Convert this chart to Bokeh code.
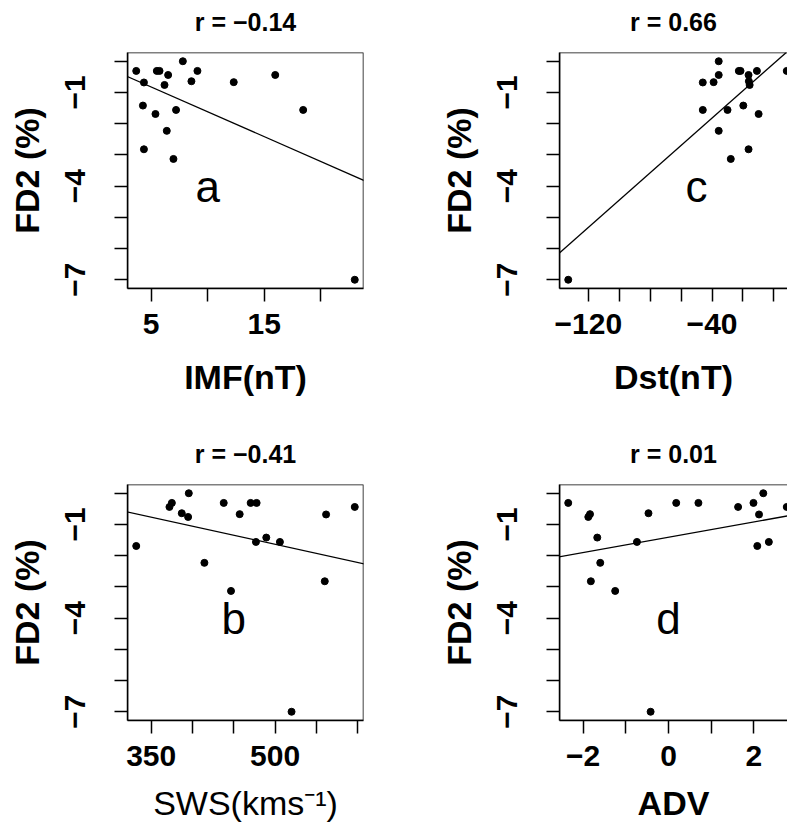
import numpy as np
from bokeh.plotting import figure
from bokeh.models import Range1d, FixedTicker, Slope, LinearAxis
from bokeh.layouts import row, column
from bokeh.core.properties import value
from bokeh.embed import file_html
from bokeh.resources import INLINE

# ---- data (one entry per event) ----
FD2 = [0.00, -0.31, -0.31, -0.31, -0.31, -0.44, -0.44, -0.64, -0.67, -0.68,
       -0.76, -1.42, -1.56, -1.56, -1.69, -2.23, -2.82, -3.13, -7.00]
IMF = [7.80, 3.68, 5.50, 5.74, 9.09, 6.50, 15.97, 8.56, 12.30, 4.36,
       6.18, 4.27, 7.20, 18.44, 5.38, 6.38, 4.36, 6.97, 23.00]
SWS = [395.5, 375.0, 437.8, 470.4, 477.6, 372.1, 596.4, 387.0, 457.1, 561.7,
       394.7, 489.3, 476.8, 505.8, 331.9, 414.4, 560.1, 446.6, 519.9]
DST = [-35.7, -22.7, -21.6, -11.0, 8.3, -35.7, -16.4, -16.2, -39.0, -46.0,
       -15.7, -19.8, -46.0, -30.0, -9.9, -35.7, -16.4, -27.9, -133.0]
ADV = [2.22, -2.35, 0.18, 0.70, 1.99, 1.63, 2.77, -0.47, -1.84, 2.12,
       -1.88, -1.67, -0.74, 2.35, 2.08, -1.60, -1.82, -1.25, -0.42]

Y_TICKS = [0, -1, -2, -3, -4, -5, -6, -7]
Y_TICK_LABELS = ["", "\u22121", "", "", "\u22124", "", "", "\u22127"]

IMF_TICKS = [5, 10, 15, 20]
IMF_TICK_LABELS = ["5", "", "15", ""]
SWS_TICKS = [350, 400, 450, 500, 550, 600]
SWS_TICK_LABELS = ["350", "", "", "500", "", ""]
DST_TICKS = [-120, -100, -80, -60, -40, -20, 0]
DST_TICK_LABELS = ["\u2212120", "", "", "", "\u221240", "", ""]
ADV_TICKS = [-2, -1, 0, 1, 2]
ADV_TICK_LABELS = ["\u22122", "", "0", "", "2"]

TITLES = ["r = \u22120.14", "r = \u22120.41", "r = 0.66", "r = 0.01"]
X_LABELS = ["IMF(nT)", "SWS(kms\u207b\u00b9)", "Dst(nT)", "ADV"]
Y_LABEL = "FD2 (%)"
LETTERS = ["a", "b", "c", "d"]
LETTER_X = [10, 450, -50, 0]
LETTER_Y = -4

FONT = "Liberation Sans"
BOX = 236          # size of R's square plotting box, px


def r_range(vals):
    lo, hi = min(vals), max(vals)
    d = hi - lo
    return lo - 0.04 * d, hi + 0.04 * d


def panel(xs, xticks, xtick_labels, title, xlabel, xlabel_style, letter,
          letter_x, right, bottom):
    w = 387 if right else 400
    h = 406 if bottom else 420
    mbl = 159 if right else 127
    mbr = 0 if right else w - mbl - BOX
    mbt = 64 if bottom else 52
    mbb = h - mbt - BOX
    x0, x1_full = r_range(xs)
    x1 = x1_full
    if right:                              # the page cuts the box on the right
        x1 = x0 + (x1_full - x0) * (w - mbl) / BOX
    y0, y1 = r_range(FD2)
    p = figure(width=w, height=h, x_range=Range1d(x0, x1),
               y_range=Range1d(y0, y1), output_backend="svg",
               toolbar_location=None, min_border_left=mbl,
               min_border_right=mbr, min_border_top=mbt,
               min_border_bottom=mbb, background_fill_color="white",
               border_fill_color="white", outline_line_color=None)
    p.xgrid.visible = False
    p.ygrid.visible = False

    # the R box
    p.quad(left=[x0], right=[x1_full], bottom=[y0], top=[y1],
           fill_color=None, line_color="black", line_width=1.5)

    xa = p.below[0]
    ya = p.left[0]
    for ax, ticks, labels in ((xa, xticks, xtick_labels),
                              (ya, Y_TICKS, Y_TICK_LABELS)):
        ax.ticker = FixedTicker(ticks=ticks)
        ax.major_label_overrides = {t: l for t, l in zip(ticks, labels)}
        ax.major_tick_out = 13
        ax.major_tick_in = 0
        ax.minor_tick_out = 0
        ax.minor_tick_in = 0
        ax.major_tick_line_width = 1.5
        ax.major_tick_line_color = "black"
        ax.axis_line_width = 1.5
        ax.axis_line_color = "black"
        ax.major_label_text_font = FONT
        ax.major_label_text_font_size = "30px"
        ax.major_label_text_font_style = "bold"
        ax.major_label_text_color = "black"
        ax.axis_label_text_font = FONT
        ax.axis_label_text_font_size = "34px"
        ax.axis_label_text_color = "black"

    xa.axis_label = xlabel
    xa.axis_label_text_font_style = xlabel_style
    xa.major_label_standoff = 12
    xa.axis_label_standoff = 15 if bottom else 21

    ya.axis_label = Y_LABEL
    ya.axis_label_text_font_style = "bold"
    ya.major_label_orientation = "vertical"
    ya.major_label_standoff = 29
    ya.axis_label_standoff = 17

    # title: label of a bare axis above the box
    tax = LinearAxis(ticker=FixedTicker(ticks=[]), axis_label=title,
                     axis_line_color=None, major_tick_out=0, major_tick_in=0,
                     minor_tick_out=0, minor_tick_in=0,
                     major_label_text_font_size="0px",
                     axis_label_text_font=FONT,
                     axis_label_text_font_size="25px",
                     axis_label_text_font_style="bold",
                     axis_label_text_color="black",
                     axis_label_standoff=17)
    p.add_layout(tax, "above")

    p.scatter(xs, FD2, size=7, color="black")
    slope, intercept = np.polyfit(np.array(xs), np.array(FD2), 1)
    p.add_layout(Slope(gradient=slope, y_intercept=intercept,
                       line_color="black", line_width=1.3))
    p.text(x=[letter_x], y=[LETTER_Y], text=[letter],
           text_font=value(FONT), text_font_size="44px",
           text_align="center", text_baseline="middle", text_color="black")
    return p


pa = panel(IMF, IMF_TICKS, IMF_TICK_LABELS, TITLES[0], X_LABELS[0], "bold",
           LETTERS[0], LETTER_X[0], False, False)
pb = panel(SWS, SWS_TICKS, SWS_TICK_LABELS, TITLES[1], X_LABELS[1], "normal",
           LETTERS[1], LETTER_X[1], False, True)
pc = panel(DST, DST_TICKS, DST_TICK_LABELS, TITLES[2], X_LABELS[2], "bold",
           LETTERS[2], LETTER_X[2], True, False)
pd = panel(ADV, ADV_TICKS, ADV_TICK_LABELS, TITLES[3], X_LABELS[3], "bold",
           LETTERS[3], LETTER_X[3], True, True)

layout = column(row(pa, pc), row(pb, pd))
open("out.html", "w").write(file_html(layout, INLINE))
